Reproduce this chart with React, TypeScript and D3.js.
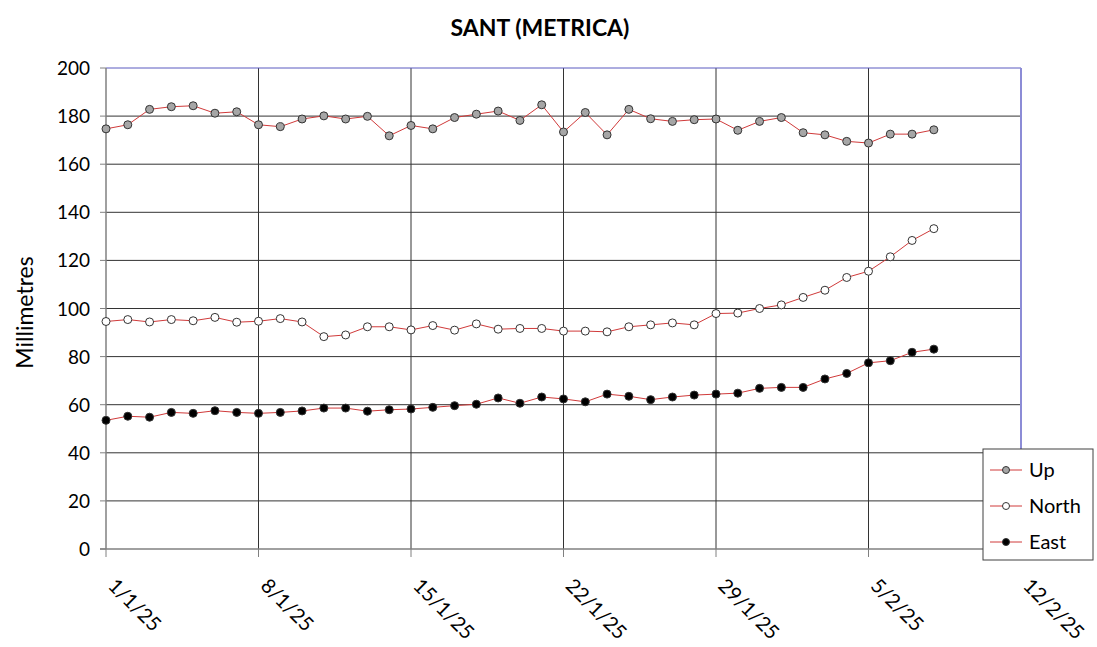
import React from "react";
import * as d3 from "d3";

// tick labels on the x axis (weekly)
const tickLabels = ["1/1/25", "8/1/25", "15/1/25", "22/1/25", "29/1/25", "5/2/25", "12/2/25"];

// daily readings 1/1/25 .. 8/2/25
const upValues = [
  174.7, 176.4, 182.8, 183.9, 184.3, 181.2, 181.8, 176.4, 175.6, 178.8,
  180.1, 178.8, 179.9, 171.8, 176.1, 174.7, 179.4, 180.8, 182.1, 178.2,
  184.7, 173.4, 181.5, 172.2, 182.8, 178.9, 177.8, 178.5, 178.8, 174.1,
  177.8, 179.4, 173.1, 172.2, 169.5, 168.8, 172.5, 172.5, 174.3,
];
const northValues = [
  94.6, 95.4, 94.4, 95.4, 94.9, 96.3, 94.3, 94.7, 95.8, 94.4,
  88.3, 89.0, 92.4, 92.4, 91.1, 92.9, 91.0, 93.6, 91.4, 91.7,
  91.7, 90.6, 90.6, 90.3, 92.4, 93.2, 94.0, 93.2, 97.9, 98.1,
  100.0, 101.5, 104.6, 107.6, 112.9, 115.5, 121.5, 128.3, 133.2,
];
const eastValues = [
  53.5, 55.2, 54.8, 56.8, 56.4, 57.5, 56.8, 56.4, 56.8, 57.4,
  58.6, 58.6, 57.3, 57.9, 58.2, 58.9, 59.6, 60.2, 62.8, 60.6,
  63.2, 62.4, 61.2, 64.4, 63.5, 62.1, 63.2, 64.0, 64.4, 64.8,
  66.8, 67.2, 67.2, 70.7, 73.0, 77.4, 78.3, 81.8, 83.1,
];
const yTicks = [0, 20, 40, 60, 80, 100, 120, 140, 160, 180, 200];

const parse = d3.utcParse("%d/%m/%y");
const start = parse("1/1/25") as Date;
const end = parse("12/2/25") as Date;
const days = d3.utcDay.range(start, d3.utcDay.offset(start, upValues.length));

const series = [
  { name: "Up", values: upValues, fill: "#a6a6a6" },
  { name: "North", values: northValues, fill: "#ffffff" },
  { name: "East", values: eastValues, fill: "#000000" },
];

const W = 1097;
const H = 647;
const left = 106, right = 1021, top = 68, bottom = 549;
const font = "Lato, 'Open Sans', sans-serif";

export default function App() {
  const x = d3.scaleUtc().domain([start, end]).range([left, right]);
  const y = d3.scaleLinear().domain([0, 200]).range([bottom, top]);
  const line = d3
    .line<number>()
    .x((_, i) => x(days[i]))
    .y((d) => y(d));
  const tickDates = tickLabels.map((t) => parse(t) as Date);

  return (
    <svg width={W} height={H} style={{ position: "absolute", left: 0, top: 0, background: "#fff" }}>
      <text x={540} y={36} textAnchor="middle" fontFamily={font} fontWeight={700} fontSize={23}>
        SANT (METRICA)
      </text>

      {/* horizontal grid */}
      {yTicks.slice(1, -1).map((t) => (
        <line key={"h" + t} x1={left} x2={right} y1={y(t)} y2={y(t)} stroke="#333" strokeWidth={1} />
      ))}
      {/* vertical grid */}
      {tickDates.slice(1, -1).map((d, i) => (
        <line key={"v" + i} x1={x(d)} x2={x(d)} y1={top} y2={bottom} stroke="#333" strokeWidth={1} />
      ))}
      {/* plot border top/right */}
      <line x1={left} x2={right} y1={top} y2={top} stroke="#5a5ac0" strokeWidth={1} />
      <line x1={right} x2={right} y1={top} y2={bottom} stroke="#8c8cd6" strokeWidth={2} />

      {/* axes */}
      <line x1={left} x2={left} y1={top} y2={bottom} stroke="#808080" strokeWidth={1.5} />
      <line x1={left - 6} x2={right} y1={bottom} y2={bottom} stroke="#808080" strokeWidth={1.5} />
      {yTicks.map((t) => (
        <g key={"yt" + t}>
          <line x1={left - 6} x2={left} y1={y(t)} y2={y(t)} stroke="#808080" />
          <text x={90} y={y(t) + 7} textAnchor="end" fontFamily={font} fontSize={19}>
            {t}
          </text>
        </g>
      ))}
      {tickDates.map((d, i) => (
        <g key={"xt" + i}>
          <line x1={x(d)} x2={x(d)} y1={bottom} y2={bottom + 8} stroke="#808080" />
          <text
            transform={`translate(${x(d) + 1},${587}) rotate(45)`}
            fontFamily={font}
            fontSize={20}
          >
            {tickLabels[i]}
          </text>
        </g>
      ))}
      <text
        transform={`translate(33,${(top + bottom) / 2 + 4}) rotate(-90)`}
        textAnchor="middle"
        fontFamily={font}
        fontSize={23}
      >
        Millimetres
      </text>

      {/* series */}
      {series.map((s) => (
        <g key={s.name}>
          <path d={line(s.values) || ""} fill="none" stroke="#d03a3a" strokeWidth={1} />
          {s.values.map((v, i) => (
            <circle key={i} cx={x(days[i])} cy={y(v)} r={4} fill={s.fill} stroke="#333" strokeWidth={1} />
          ))}
        </g>
      ))}

      {/* legend */}
      <rect x={983} y={449} width={110} height={111} fill="#fff" stroke="#404040" strokeWidth={1} />
      {series.map((s, i) => {
        const ly = 470 + i * 36;
        return (
          <g key={"lg" + s.name}>
            <line x1={990} x2={1022} y1={ly} y2={ly} stroke="#d03a3a" strokeWidth={1} />
            <circle cx={1006} cy={ly} r={3.5} fill={s.fill} stroke="#333" strokeWidth={1} />
            <text x={1029} y={ly + 7} fontFamily={font} fontSize={20}>
              {s.name}
            </text>
          </g>
        );
      })}
    </svg>
  );
}
